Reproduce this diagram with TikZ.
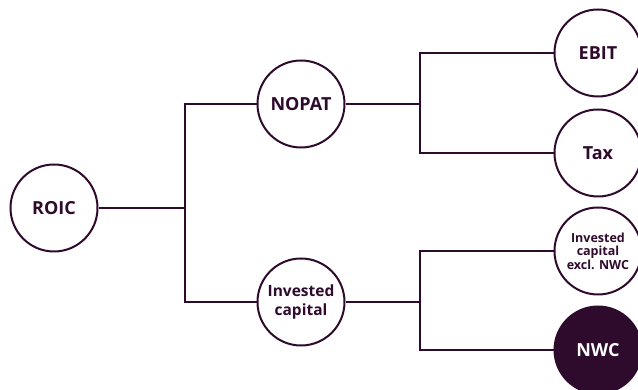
\documentclass[tikz,border=0pt]{standalone}
\usepackage{fontspec}
\setmainfont{Open Sans}
\definecolor{plum}{HTML}{2E0A2C}
\begin{document}
\begin{tikzpicture}[x=1pt, y=1pt, line width=2pt, draw=plum,
  every node/.style={circle, draw=plum, fill=white, text=plum, line width=2pt,
    minimum size=87pt, inner sep=0pt, align=center, font=\bfseries\fontsize{18}{20}\selectfont}]
  \useasboundingbox (0,0) rectangle (638,390);
  \node (roic) at (54,182) {ROIC};
  \node (nopat) at (301,286) {NOPAT};
  \node[font=\bfseries\fontsize{15.5}{19}\selectfont] (ic) at (301,88) {Invested\\capital};
  \node (ebit) at (598,337) {EBIT};
  \node (tax) at (598,237) {Tax};
  \node[font=\bfseries\fontsize{12.5}{13.5}\selectfont] (icx) at (598,139) {Invested\\capital\\excl. NWC};
  \node[fill=plum, text=white] (nwc) at (598,40) {NWC};

  \coordinate (j1) at (185,182);
  \coordinate (j2) at (420,286);
  \coordinate (j3) at (420,88);

  \draw (roic) -- (j1);
  \draw (nopat) -| (j1);
  \draw (ic) -| (j1);
  \draw (nopat) -- (j2);
  \draw (ebit) -| (j2);
  \draw (tax) -| (j2);
  \draw (ic) -- (j3);
  \draw (icx) -| (j3);
  \draw (nwc) -| (j3);
\end{tikzpicture}
\end{document}
